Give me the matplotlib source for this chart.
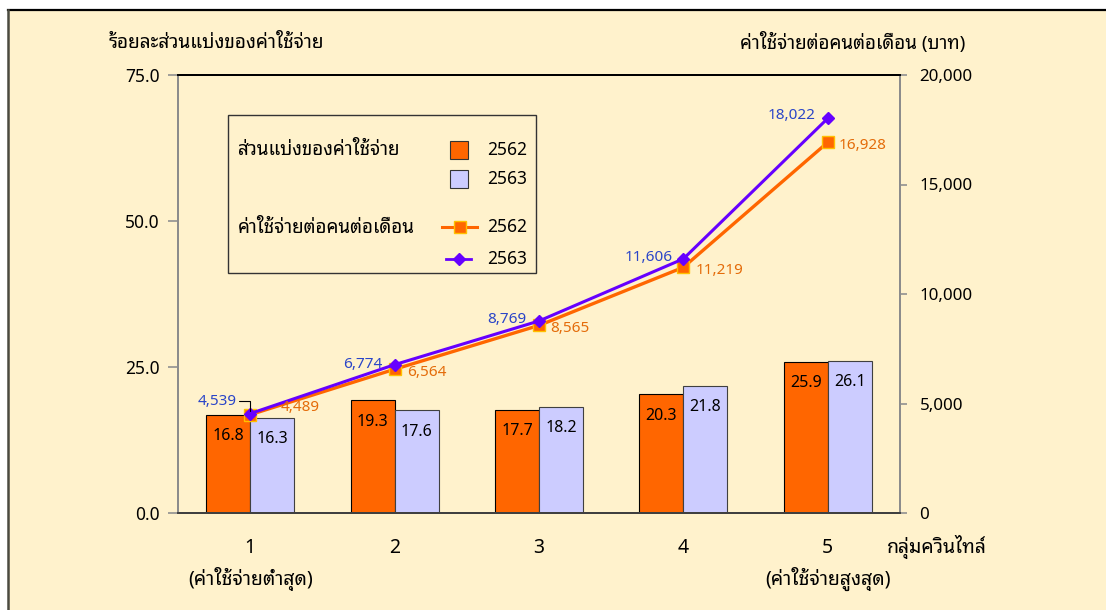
import matplotlib

matplotlib.use("Agg")
import matplotlib.pyplot as plt
import numpy as np
from matplotlib.lines import Line2D
from matplotlib.patches import Rectangle
from matplotlib.ticker import FuncFormatter

# data ------------------------------------------------------------------
groups = ["1", "2", "3", "4", "5"]
group_notes = ["(ค่าใช้จ่ายต่ำสุด)", "", "", "", "(ค่าใช้จ่ายสูงสุด)"]
share_2562 = [16.8, 19.3, 17.7, 20.3, 25.9]
share_2563 = [16.3, 17.6, 18.2, 21.8, 26.1]
spend_2562 = [4489, 6564, 8565, 11219, 16928]
spend_2563 = [4539, 6774, 8769, 11606, 18022]
years = ["2562", "2563"]

left_title = "ร้อยละส่วนแบ่งของค่าใช้จ่าย"
right_title = "ค่าใช้จ่ายต่อคนต่อเดือน (บาท)"
xlabel = "กลุ่มควินไทล์"
legend_share = "ส่วนแบ่งของค่าใช้จ่าย"
legend_spend = "ค่าใช้จ่ายต่อคนต่อเดือน"

# style -----------------------------------------------------------------
FONT = ["Noto Sans Thai Looped", "DejaVu Sans"]
plt.rcParams["font.family"] = FONT
CREAM = "#FFF2CC"
ORANGE = "#FF6600"
LAVENDER = "#CCCCFF"
PURPLE = "#6600FF"
GOLD = "#FFC000"
LBL_BLUE = "#2A45C8"
LBL_ORANGE = "#E46C0A"

W, H = 1106, 610
AX_L, AX_R, AX_T, AX_B = 178, 900, 75, 513


def ax_frac(x, y):
    """pixel position in the reference -> axes fraction"""
    return (x - AX_L) / (AX_R - AX_L), (AX_B - y) / (AX_B - AX_T)


fig = plt.figure(figsize=(W / 100, H / 100), dpi=100)
fig.patch.set_facecolor("white")
fig.patches.append(Rectangle((8 / W, 0), 1, 1 - 10 / H, transform=fig.transFigure,
                             facecolor=CREAM, edgecolor="none", zorder=-10))
fig.lines.append(Line2D([8 / W, 1], [1 - 10 / H] * 2, transform=fig.transFigure,
                        color="black", lw=1.6, zorder=-5))
fig.lines.append(Line2D([8 / W] * 2, [0, 1 - 10 / H], transform=fig.transFigure,
                        color="#4A4A40", lw=1.8, zorder=-5))

ax = fig.add_axes([AX_L / W, 1 - AX_B / H, (AX_R - AX_L) / W, (AX_B - AX_T) / H])
ax.set_facecolor(CREAM)
ax2 = ax.twinx()

x = np.arange(len(groups))
bw = 0.305
b1 = ax.bar(x - bw / 2, share_2562, bw, color=ORANGE, edgecolor="black", lw=0.8)
b2 = ax.bar(x + bw / 2, share_2563, bw, color=LAVENDER, edgecolor="#404040", lw=0.8)
for bars, vals in ((b1, share_2562), (b2, share_2563)):
    for rect, v in zip(bars, vals):
        ax.annotate(f"{v:.1f}", (rect.get_x() + rect.get_width() / 2, v),
                    xytext=(0, -15.5), textcoords="offset points",
                    ha="center", va="center", fontsize=11.5, color="black")

ax.set_xlim(-0.5, len(groups) - 0.5)
ax.set_ylim(0, 75)
ax.set_yticks([0, 25, 50, 75])
ax.yaxis.set_major_formatter(FuncFormatter(lambda v, _: f"{v:.1f}"))
ax.set_xticks(x)
ax.set_xticklabels([g + ("\n" + n if n else "") for g, n in zip(groups, group_notes)])
for lbl in ax.get_xticklabels():
    lbl.set_linespacing(1.5)
ax.tick_params(axis="x", length=0, pad=18, labelsize=14)
ax.tick_params(axis="y", length=7, color="#909090", width=1.2, pad=6, labelsize=12.5)

ax2.plot(x, spend_2562, color=ORANGE, lw=2.4, marker="s", ms=8,
         mfc=ORANGE, mec=GOLD, mew=1.0, zorder=3)
ax2.plot(x, spend_2563, color=PURPLE, lw=2.2, marker="D", ms=6,
         mfc=PURPLE, mec=PURPLE, zorder=4)
ax2.set_ylim(0, 20000)
ax2.set_yticks(np.arange(0, 20001, 5000))
ax2.yaxis.set_major_formatter(FuncFormatter(lambda v, _: f"{int(v):,}"))
ax2.tick_params(axis="y", length=5, color="#909090", width=1.2, pad=9, labelsize=12.2)

# point labels (offsets in points)
off_2563 = [(-24, 9), (-23, 0), (-23, 1), (-25, 1), (-26, 2)]
off_2562 = [(36, 5), (23, -2), (22, -2), (26, -2), (25, -2)]
for i, v in enumerate(spend_2563):
    kw = {}
    if i == 0:
        kw["arrowprops"] = dict(arrowstyle="-", color="black", lw=0.8,
                                connectionstyle="angle,angleA=0,angleB=90,rad=0",
                                shrinkA=0, shrinkB=2, relpos=(1.0, 0.5))
    ax2.annotate(f"{v:,}", (x[i], v), xytext=off_2563[i], textcoords="offset points",
                 ha="center", va="center", fontsize=11, color=LBL_BLUE, zorder=6, **kw)
for i, v in enumerate(spend_2562):
    ax2.annotate(f"{v:,}", (x[i], v), xytext=off_2562[i], textcoords="offset points",
                 ha="center", va="center", fontsize=11, color=LBL_ORANGE, zorder=6)

for a in (ax, ax2):
    a.spines["left"].set_color("#8C8C8C")
    a.spines["right"].set_color("#8C8C8C")
    a.spines["top"].set_color("black")
    a.spines["bottom"].set_color("#404040")
    for s in a.spines.values():
        s.set_linewidth(1.4)

# legend box
T = ax2.transAxes
x0, y0 = ax_frac(228, 273)
x1, y1 = ax_frac(536, 115)
ax2.add_patch(Rectangle((x0, y0), x1 - x0, y1 - y0, transform=T, facecolor=CREAM,
                        edgecolor="#333333", lw=1.0, zorder=5))
for label, yy in ((legend_share, 150), (legend_spend, 228)):
    ax2.text(*ax_frac(238, yy), label, transform=T, ha="left", va="center",
             fontsize=13.5, zorder=6)
for col, ec, yy, yr in ((ORANGE, "#333333", 150, years[0]), (LAVENDER, "#333333", 179, years[1])):
    sx, sy = ax_frac(450, yy + 9)
    sx2, sy2 = ax_frac(468, yy - 9)
    ax2.add_patch(Rectangle((sx, sy), sx2 - sx, sy2 - sy, transform=T, facecolor=col,
                            edgecolor=ec, lw=0.8, zorder=6))
    ax2.text(*ax_frac(487, yy), yr, transform=T, ha="left", va="center", fontsize=12.5, zorder=6)
for (xa, xb, yy), kw, yr in (
        ((442, 477, 227), dict(color=ORANGE, lw=2.2, marker="s", ms=8, mfc=ORANGE, mec=GOLD), years[0]),
        ((446, 471, 259), dict(color=PURPLE, lw=2.0, marker="D", ms=6, mfc=PURPLE, mec=PURPLE), years[1])):
    (ax_a, ay), (bx_, _) = ax_frac(xa, yy), ax_frac(xb, yy)
    ax2.add_line(Line2D([ax_a, bx_], [ay, ay], transform=T, lw=kw["lw"], color=kw["color"], zorder=6))
    ax2.add_line(Line2D([(ax_a + bx_) / 2], [ay], transform=T, ls="none", marker=kw["marker"],
                        ms=kw["ms"], mfc=kw["mfc"], mec=kw["mec"], zorder=7))
    ax2.text(*ax_frac(487, yy), yr, transform=T, ha="left", va="center", fontsize=12.5, zorder=6)

# titles and axis caption
fig.text(216 / W, 1 - 43 / H, left_title, ha="center", va="center", fontsize=13.7)
fig.text(853 / W, 1 - 42 / H, right_title, ha="center", va="center", fontsize=13.5)
ax.text(*ax_frac(887, 547), xlabel, transform=ax.transAxes, ha="left", va="center", fontsize=14)

fig.savefig("out.png", dpi=100, facecolor=fig.get_facecolor())
